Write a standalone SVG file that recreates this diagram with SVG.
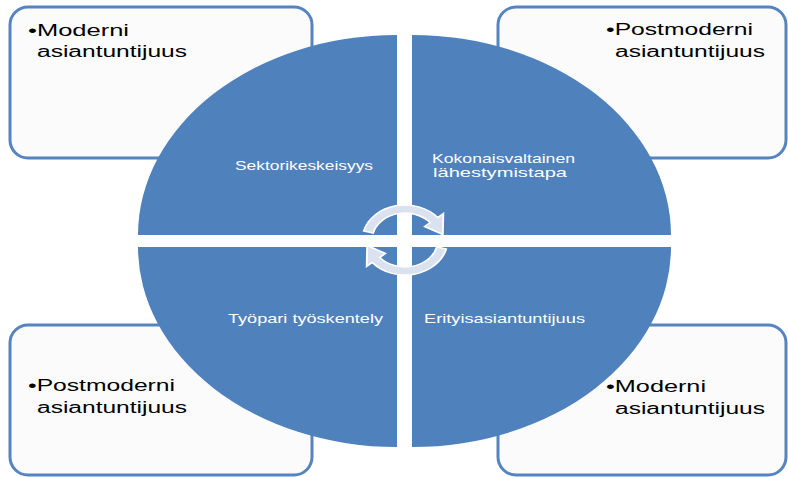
<svg xmlns="http://www.w3.org/2000/svg" width="788" height="477" viewBox="0 0 788 477">
  <defs>
    <style>
      .box { fill: #fbfbfb; stroke: #5584c0; stroke-width: 3; }
      .quad { fill: #4f81bd; }
      .btxt { font-family: "Liberation Sans", Arial, sans-serif; font-size: 16px; fill: #000000; }
      .qtxt { font-family: "Liberation Sans", Arial, sans-serif; font-size: 13px; fill: #ffffff; }
      .arrow { fill: #d9e2ee; stroke: #ffffff; stroke-width: 1.5; }
    </style>
    <path id="cyc" d="M -33.81,-9.06 A35,35 0 0 1 26.81,-22.50 L31.41,-26.35 L31.02,-5.47 L16.09,-13.50 L20.68,-17.36 A27,27 0 0 0 -26.08,-6.99 Z"/>
  </defs>
  <rect width="788" height="477" fill="#ffffff"/>

  <g id="box-top-left">
    <rect class="box" x="10" y="7" width="302" height="151" rx="18"/>
    <text class="btxt" x="28" y="36" textLength="101" lengthAdjust="spacingAndGlyphs">•Moderni</text>
    <text class="btxt" x="37" y="57" textLength="150" lengthAdjust="spacingAndGlyphs">asiantuntijuus</text>
  </g>
  <g id="box-top-right">
    <rect class="box" x="498" y="7" width="288" height="151" rx="18"/>
    <text class="btxt" x="606" y="35" textLength="147" lengthAdjust="spacingAndGlyphs">•Postmoderni</text>
    <text class="btxt" x="615" y="57" textLength="150" lengthAdjust="spacingAndGlyphs">asiantuntijuus</text>
  </g>
  <g id="box-bottom-left">
    <rect class="box" x="10" y="325" width="302" height="150" rx="18"/>
    <text class="btxt" x="28" y="391" textLength="147" lengthAdjust="spacingAndGlyphs">•Postmoderni</text>
    <text class="btxt" x="37" y="413" textLength="150" lengthAdjust="spacingAndGlyphs">asiantuntijuus</text>
  </g>
  <g id="box-bottom-right">
    <rect class="box" x="498" y="325" width="288" height="150" rx="18"/>
    <text class="btxt" x="606" y="392" textLength="100" lengthAdjust="spacingAndGlyphs">•Moderni</text>
    <text class="btxt" x="615" y="414" textLength="150" lengthAdjust="spacingAndGlyphs">asiantuntijuus</text>
  </g>

  <g id="quad-top-left">
    <path class="quad" d="M397,235 L138,235 A259,200 0 0 1 397,35 Z"/>
    <text class="qtxt" x="235" y="170" textLength="138" lengthAdjust="spacingAndGlyphs">Sektorikeskeisyys</text>
  </g>
  <g id="quad-top-right">
    <path class="quad" d="M412,235 L412,35 A259,200 0 0 1 671,235 Z"/>
    <text class="qtxt" x="432" y="163" textLength="143" lengthAdjust="spacingAndGlyphs">Kokonaisvaltainen</text>
    <text class="qtxt" x="433" y="177" textLength="134" lengthAdjust="spacingAndGlyphs">lähestymistapa</text>
  </g>
  <g id="quad-bottom-left">
    <path class="quad" d="M397,247 L397,447 A259,200 0 0 1 138,247 Z"/>
    <text class="qtxt" x="228" y="323" textLength="155" lengthAdjust="spacingAndGlyphs">Työpari työskentely</text>
  </g>
  <g id="quad-bottom-right">
    <path class="quad" d="M412,247 L671,247 A259,200 0 0 1 412,447 Z"/>
    <text class="qtxt" x="424" y="323" textLength="161" lengthAdjust="spacingAndGlyphs">Erityisasiantuntijuus</text>
  </g>

  <g id="connectors">
    <use href="#cyc" class="arrow" transform="translate(405,240) scale(1.22,1)" vector-effect="non-scaling-stroke"/>
    <use href="#cyc" class="arrow" transform="translate(405,240) scale(1.22,1) rotate(180)" vector-effect="non-scaling-stroke"/>
  </g>
</svg>
